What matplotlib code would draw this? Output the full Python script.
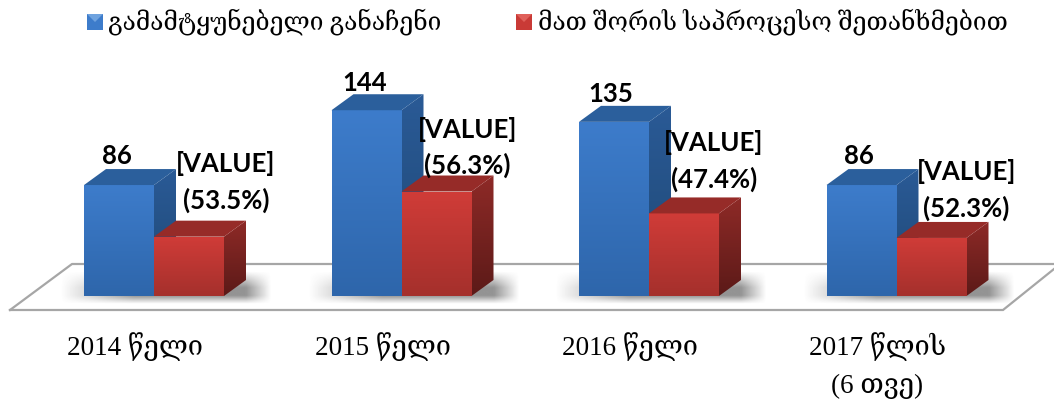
import matplotlib
matplotlib.use('Agg')
import matplotlib.pyplot as plt
import numpy as np
from matplotlib.colors import LinearSegmentedColormap
from matplotlib.patches import Polygon, Rectangle

plt.rcParams['font.family'] = ['Liberation Serif', 'DejaVu Serif', 'DejaVu Sans']

categories = ['2014 წელი', '2015 წელი', '2016 წელი', '2017 წლის\n(6 თვე)']
convictions = [86, 144, 135, 86]
plea_deals = [46, 81, 64, 45]
plea_labels = ['[VALUE]\n(53.5%)', '[VALUE]\n(56.3%)', '[VALUE]\n(47.4%)', '[VALUE]\n(52.3%)']
legend_names = ['გამამტყუნებელი განაჩენი', 'მათ შორის საპროცესო შეთანხმებით']

W, H = 1054, 402
PX_Y = 1.29       # pixels per unit
PX_X = 247.5      # pixels per category
X0 = 135          # pixel of first category
Y0 = 297          # pixel of value 0
BOTTOM = 311      # pixel of axes bottom

fig = plt.figure(figsize=(W / 100, H / 100), dpi=100)
ax = fig.add_axes([0, (H - BOTTOM) / H, 1, BOTTOM / H])
xlim = (-X0 / PX_X, (W - X0) / PX_X)
ylim = ((Y0 - BOTTOM) / PX_Y, Y0 / PX_Y)


def px(x, y):
    # picture pixel -> data coords, for the decoration
    return (x - X0) / PX_X, (Y0 - y) / PX_Y


def draw_bars(values, left_px, c_top, c_bot, side_top, side_bot, roof, z):
    w = 70 / PX_X
    dx = 22 / PX_X
    dy = 16 / PX_Y
    grad = np.linspace(0, 1, 64).reshape(-1, 1)
    front = LinearSegmentedColormap.from_list('f', [c_bot, c_top])
    side = LinearSegmentedColormap.from_list('s', [side_bot, side_top])
    for i, v in enumerate(values):
        x = i + left_px / PX_X
        b = ax.bar(x, v, w, align='edge', color=c_top, zorder=z)[0]
        im = ax.imshow(grad, extent=(x, x + w, 0, v), origin='lower', aspect='auto',
                       cmap=front, zorder=z + 0.1)
        im.set_clip_path(b)
        s = Polygon([(x + w, 0), (x + w + dx, dy), (x + w + dx, v + dy), (x + w, v)],
                     closed=True, fc='none', ec='none', zorder=z + 0.1)
        ax.add_patch(s)
        im2 = ax.imshow(grad, extent=(x + w, x + w + dx, 0, v + dy), origin='lower',
                        aspect='auto', cmap=side, zorder=z + 0.1)
        im2.set_clip_path(s)
        ax.add_patch(Polygon([(x, v), (x + dx, v + dy), (x + w + dx, v + dy), (x + w, v)],
                             closed=True, fc=roof, ec='none', zorder=z + 0.1))


# floor
floor = [px(10, 311), px(72, 265), px(1060, 265)]
ax.add_patch(Polygon([px(10, 311), px(72, 265), px(1060, 265), px(1003, 311)],
                     closed=True, fc='white', ec='none', zorder=1, clip_on=False))
ax.plot(*zip(*floor), color='#a6a6a6', lw=1.6, zorder=1.1, clip_on=False)
ax.plot(*zip(px(10, 311), px(1003, 311), px(1054, 270)), color='#a6a6a6', lw=1.6,
        zorder=1.1, clip_on=False, solid_joinstyle='miter')

# soft shadow under each group
u = np.linspace(0, 1, 120)
v = np.linspace(0, 1, 40)
fade_x = np.clip(np.minimum(u / 0.35, (1 - u) / 0.12), 0, 1)
fade_y = np.clip(np.minimum(v / 0.25, (1 - v) / 0.5), 0, 1)
shade = np.zeros((40, 120, 4))
shade[..., :3] = 0.3
shade[..., 3] = 0.6 * np.outer(fade_y, fade_x)
for i in range(len(categories)):
    x0, y0 = px(X0 + PX_X * i - 75, 305)
    x1, y1 = px(X0 + PX_X * i + 137, 272)
    ax.imshow(shade, extent=(x0, x1, y0, y1), origin='lower', aspect='auto', zorder=1.5,
              interpolation='bilinear')

draw_bars(convictions, -51, '#3d7ccb', '#2e66ab', '#2a5a96', '#1f4874', '#2b5f9c', 2)
draw_bars(plea_deals, 19, '#d03c38', '#a5302c', '#8e2a27', '#5c1a18', '#962b28', 3)

# value labels
bold = dict(family=['Lato', 'DejaVu Sans'], weight='bold', fontsize=18.5, color='black', zorder=5)
conv_dx = [-2, -2, -3, -3]
conv_dy = [30, 28, 29, 30]
for i, val in enumerate(convictions):
    ax.annotate(str(val), (i - 16 / PX_X, val), xytext=(conv_dx[i] * 0.72, conv_dy[i] * 0.72),
                textcoords='offset points', ha='center', va='center', **bold)
plea_dx = [37, 31, 30, 35]
plea_dy = [56, 45, 53, 49]
for i, (val, t) in enumerate(zip(plea_deals, plea_labels)):
    ax.annotate(t, (i + 54 / PX_X, val), xytext=(plea_dx[i] * 0.72, plea_dy[i] * 0.72),
                textcoords='offset points', ha='center', va='center', linespacing=1.55, **bold)

# legend
keys = [(87, '#3d7ccb', '#6fa3df'), (516, '#c93a36', '#e0605a')]
starts = [108, 538]
for (kx, col, tip), name, tx in zip(keys, legend_names, starts):
    x0, y1 = px(kx, 15)
    x1, y0 = px(kx + 16, 31)
    ax.add_patch(Rectangle((x0, y0), x1 - x0, y1 - y0, fc=col, ec='none', zorder=5, clip_on=False))
    ax.add_patch(Polygon([px(kx, 15), px(kx + 16, 15), px(kx + 8, 23)], closed=True, fc=tip,
                         ec='none', zorder=6, clip_on=False))
    tx_d, ty_d = px(tx, 22)
    ax.text(tx_d, ty_d, name, fontsize=17.7, ha='left', va='center', color='black', clip_on=False)

ax.set_xlim(*xlim)
ax.set_ylim(*ylim)
ax.set_yticks([])
ax.set_xticks(range(len(categories)))
ax.set_xticklabels(categories, fontsize=19.5, linespacing=1.68)
ax.tick_params(axis='x', length=0, pad=15)
for s in ax.spines.values():
    s.set_visible(False)
ax.patch.set_alpha(0)

fig.savefig('out.png', dpi=100)
